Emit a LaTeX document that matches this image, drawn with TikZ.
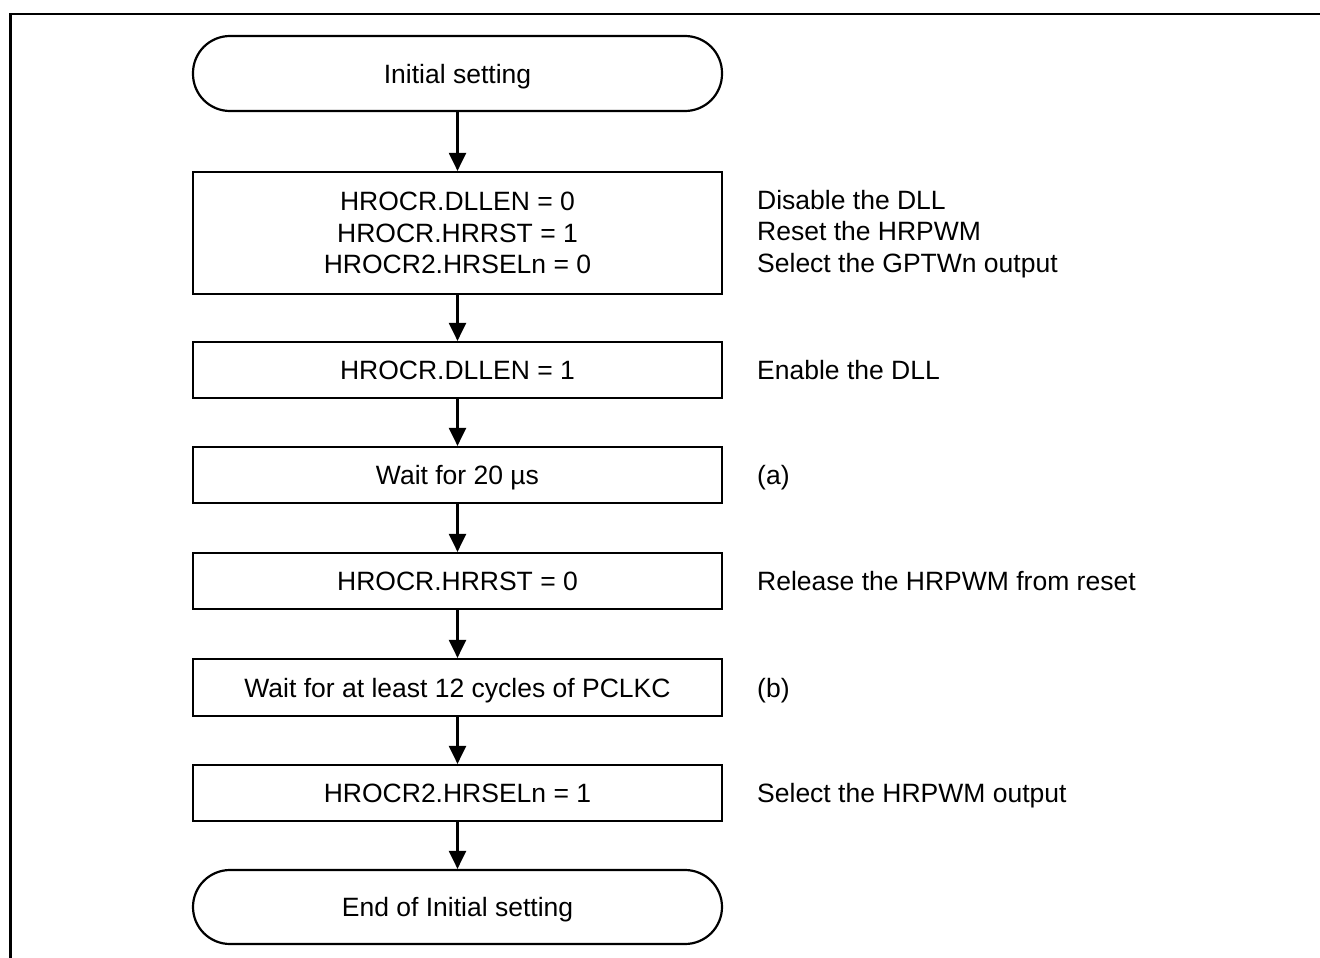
\documentclass[tikz,border=0pt]{standalone}
\usepackage{fontspec}
\setmainfont{Liberation Sans}
\usetikzlibrary{arrows.meta}
\begin{document}
\begin{tikzpicture}[x=1pt,y=-1pt,
  every node/.style={font=\fontsize{26.5}{31.5}\selectfont, inner sep=0pt, text depth=0pt},
  procbox/.style={draw, line width=2.2pt, minimum width=529pt, align=center},
  termbox/.style={draw, line width=2.2pt, minimum width=529pt, rounded corners=37pt},
  note/.style={anchor=west, align=left},
  flow/.style={line width=2.2pt, -{Triangle[width=17pt,length=18pt]}}]
\useasboundingbox (0,0) rectangle (1320,958);
\draw[line width=2.2pt] (1320,14.3) -- (10.5,14.3) -- (10.5,958);

\node[termbox, minimum height=75pt] (start) at (457.5,73.5) {Initial setting};
\node[procbox, minimum height=122pt] (b1) at (457.5,233) {HROCR.DLLEN = 0\\HROCR.HRRST = 1\\HROCR2.HRSELn = 0};
\node[procbox, minimum height=56pt] (b2) at (457.5,370) {HROCR.DLLEN = 1};
\node[procbox, minimum height=56pt] (b3) at (457.5,475) {Wait for 20 µs};
\node[procbox, minimum height=56pt] (b4) at (457.5,581) {HROCR.HRRST = 0};
\node[procbox, minimum height=57pt] (b5) at (457.5,687.5) {Wait for at least 12 cycles of PCLKC};
\node[procbox, minimum height=56pt] (b6) at (457.5,793) {HROCR2.HRSELn = 1};
\node[termbox, minimum height=74pt] (end) at (457.5,907) {End of Initial setting};

\node[note] (n1) at (757,231) {Disable the DLL\\Reset the HRPWM\\Select the GPTWn output};
\node[note] (n2) at (757,370) {Enable the DLL};
\node[note] (n3) at (757,475) {(a)};
\node[note] (n4) at (757,581) {Release the HRPWM from reset};
\node[note] (n5) at (757,687.5) {(b)};
\node[note] (n6) at (757,793) {Select the HRPWM output};

\draw[flow] (start) -- (b1);
\draw[flow] (b1) -- (b2);
\draw[flow] (b2) -- (b3);
\draw[flow] (b3) -- (b4);
\draw[flow] (b4) -- (b5);
\draw[flow] (b5) -- (b6);
\draw[flow] (b6) -- (end);
\end{tikzpicture}
\end{document}
